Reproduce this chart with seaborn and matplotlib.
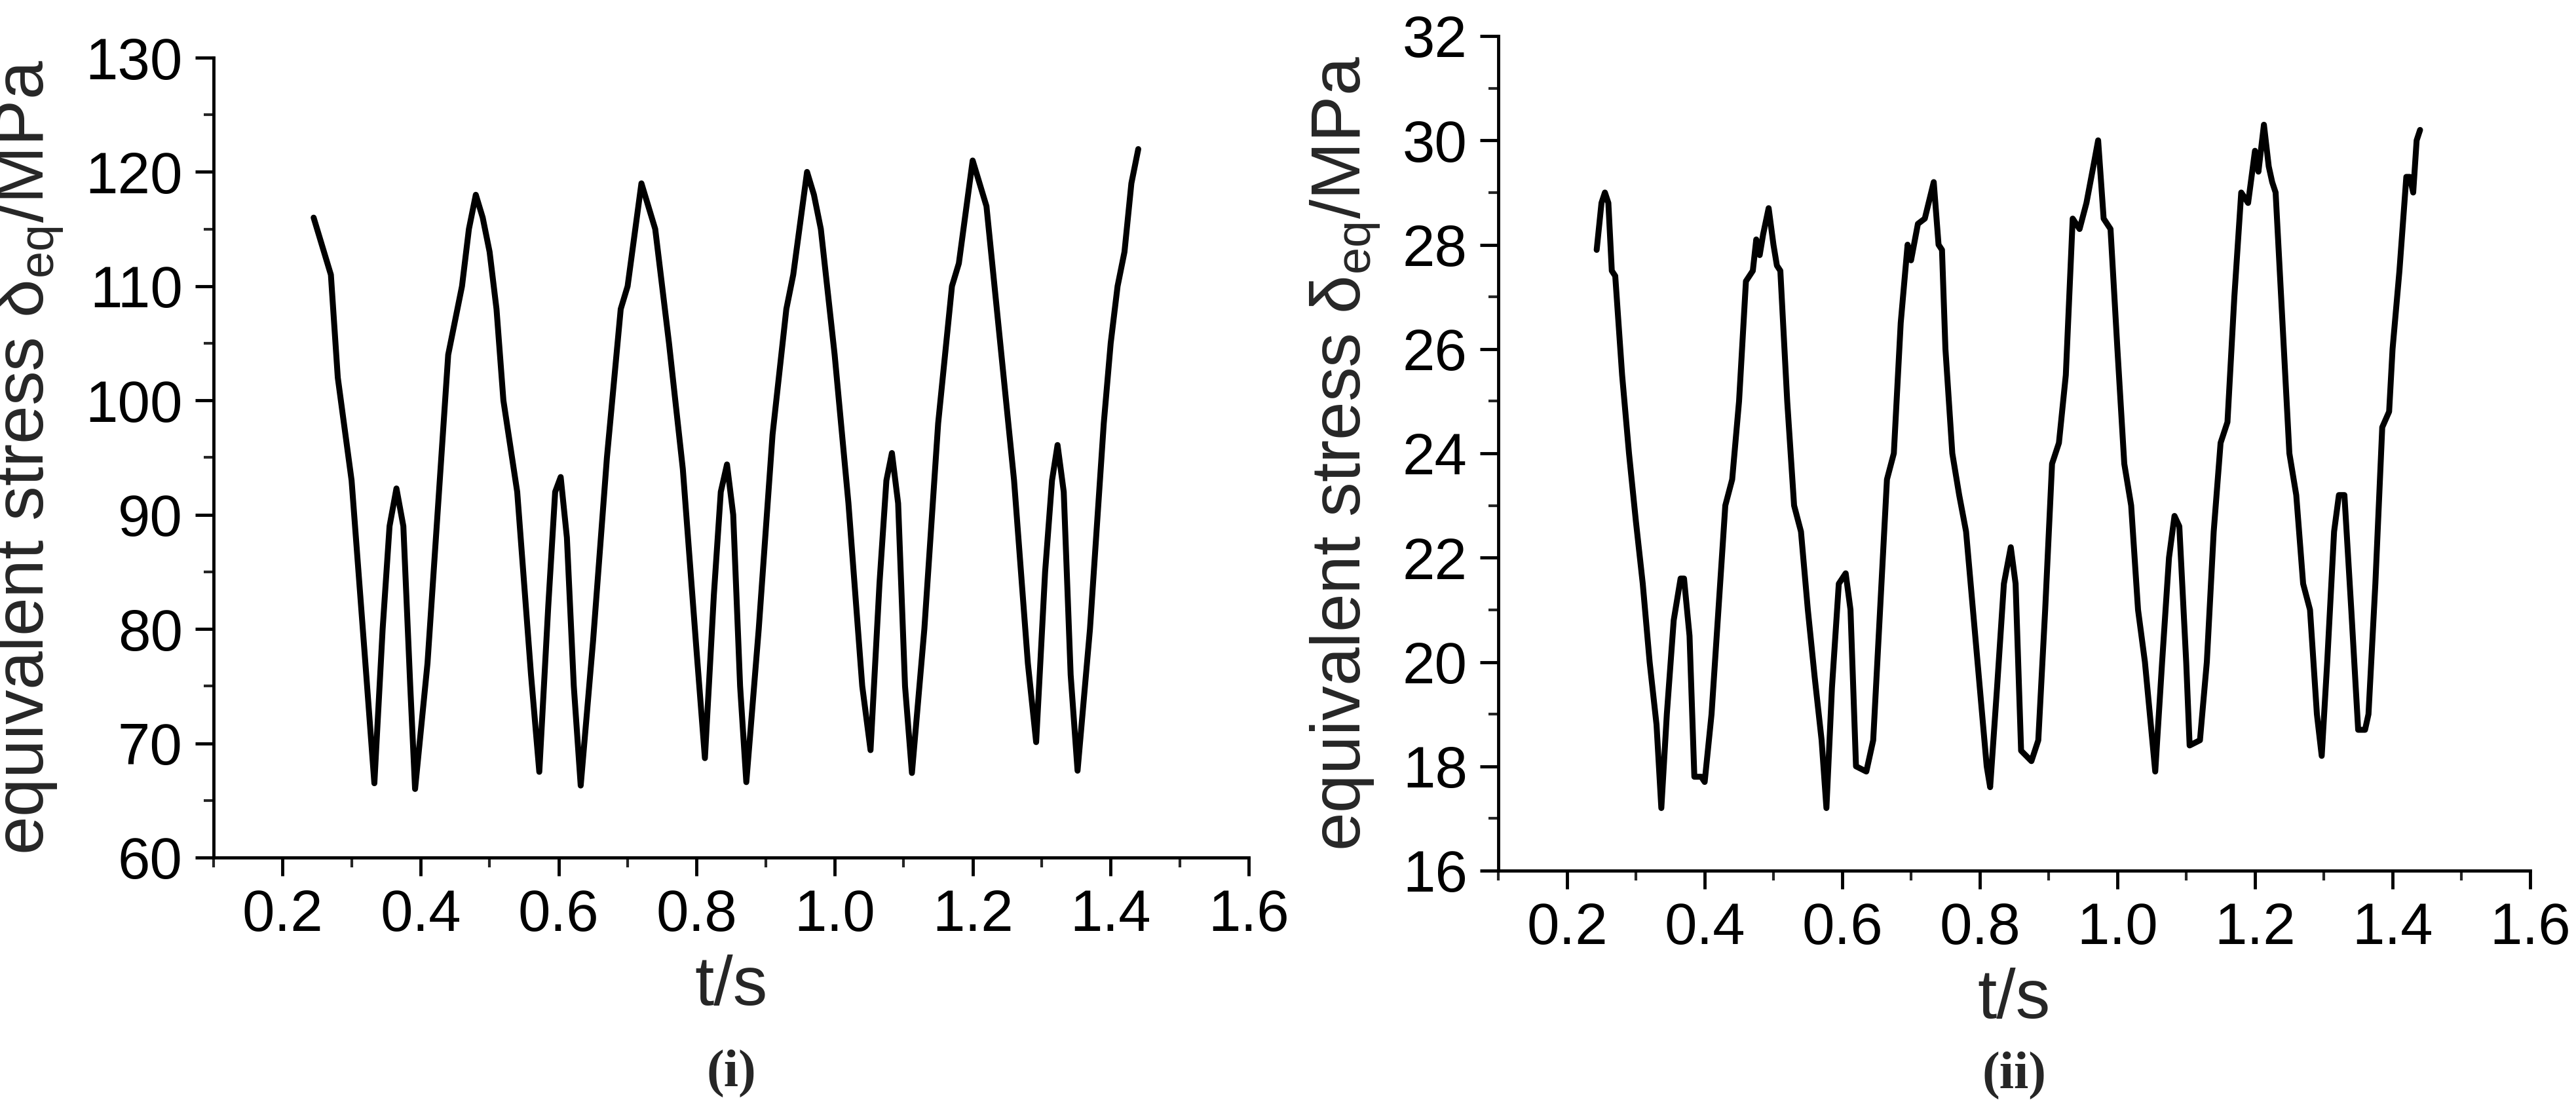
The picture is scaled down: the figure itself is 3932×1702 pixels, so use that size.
import numpy as np
import pandas as pd
import matplotlib
matplotlib.use("Agg")
import matplotlib.pyplot as plt
import seaborn as sns
from matplotlib.ticker import MultipleLocator

t1 = [0.245,0.26,0.27,0.28,0.30,0.32,0.333,0.345,0.355,0.365,0.375,0.385,0.392,0.41,0.43,0.44,0.45,0.46,0.47,0.48,0.49,0.50,0.51,0.52,0.54,0.56,0.572,0.585,0.595,0.603,0.612,0.622,0.632,0.65,0.67,0.69,0.70,0.72,0.73,0.74,0.76,0.78,0.80,0.812,0.825,0.835,0.844,0.853,0.863,0.872,0.89,0.91,0.93,0.94,0.96,0.97,0.98,1.00,1.02,1.04,1.052,1.065,1.075,1.083,1.092,1.102,1.112,1.13,1.15,1.17,1.18,1.20,1.21,1.22,1.24,1.26,1.28,1.292,1.305,1.315,1.323,1.332,1.342,1.352,1.37,1.39,1.40,1.41,1.42,1.43,1.44]
s1 = [116,113,111,102,93,77,66.5,80,89,92.3,89,75,66,77,95,104,107,110,115,118,116,113,108,100,92,76,67.5,82,92,93.3,88,75,66.3,79,95,108,110,119,117,115,105,94,78,68.7,83,92,94.4,90,75,66.6,80,97,108,111,120,118,115,104,91,75,69.4,84,93,95.4,91,75,67.4,80,98,110,112,121,119,117,105,93,77,70.1,85,93,96.1,92,76,67.6,80,98,105,110,113,119,122]

t2 = [0.243,0.25,0.255,0.26,0.265,0.27,0.28,0.29,0.30,0.31,0.32,0.33,0.337,0.345,0.355,0.365,0.37,0.378,0.385,0.395,0.40,0.41,0.42,0.43,0.44,0.45,0.46,0.47,0.475,0.48,0.485,0.493,0.50,0.505,0.51,0.52,0.53,0.54,0.55,0.56,0.57,0.577,0.585,0.595,0.605,0.612,0.62,0.635,0.645,0.655,0.665,0.675,0.685,0.695,0.70,0.71,0.72,0.733,0.74,0.745,0.75,0.76,0.77,0.78,0.79,0.80,0.81,0.815,0.825,0.835,0.845,0.852,0.86,0.875,0.885,0.895,0.905,0.915,0.925,0.935,0.945,0.955,0.965,0.972,0.98,0.99,1.00,1.01,1.02,1.03,1.04,1.055,1.065,1.075,1.083,1.09,1.10,1.105,1.12,1.13,1.14,1.15,1.16,1.17,1.18,1.19,1.20,1.205,1.213,1.22,1.225,1.23,1.24,1.25,1.26,1.27,1.28,1.29,1.297,1.305,1.315,1.322,1.33,1.34,1.35,1.36,1.365,1.375,1.385,1.395,1.40,1.41,1.42,1.425,1.43,1.435,1.44]
s2 = [27.9,28.8,29,28.8,27.5,27.4,25.5,24,22.7,21.5,20,18.8,17.2,19,20.8,21.6,21.6,20.5,17.8,17.8,17.7,19,21,23,23.5,25,27.3,27.5,28.1,27.8,28.2,28.7,28,27.6,27.5,25,23,22.5,21,19.7,18.5,17.2,19.5,21.5,21.7,21,18,17.9,18.5,21,23.5,24,26.5,28,27.7,28.4,28.5,29.2,28,27.9,26,24,23.2,22.5,21,19.5,18,17.6,19.5,21.5,22.2,21.5,18.3,18.1,18.5,21,23.8,24.2,25.5,28.5,28.3,28.8,29.5,30,28.5,28.3,26,23.8,23,21,20,17.9,20,22,22.8,22.6,20,18.4,18.5,20,22.5,24.2,24.6,27,29,28.8,29.8,29.4,30.3,29.5,29.2,29,26.5,24,23.2,21.5,21,19,18.2,20,22.5,23.2,23.2,21,18.7,18.7,19,21.5,24.5,24.8,26,27.5,29.3,29.3,29,30,30.2]

sns.set_theme(style="ticks")
plt.rcParams['font.family'] = ['Liberation Sans', 'DejaVu Sans']

fig = plt.figure(figsize=(39.32, 17.02), dpi=100)
ax1 = fig.add_axes([326/3932, 1-1309/1702, (1906-326)/3932, (1309-88)/1702])
ax2 = fig.add_axes([2287/3932, 1-1329/1702, (3862-2287)/3932, (1329-55)/1702])

specs = [(ax1, t1, s1, (60, 130), 10, 5, '(i)', -0.27),
         (ax2, t2, s2, (16, 32), 2, 1, '(ii)', -0.245)]
for ax, t, s, ylim, ymaj, ymin, cap, cy in specs:
    sns.lineplot(x=t, y=s, ax=ax, color='black', linewidth=6.5, sort=False)
    ax.set_xlim(0.1, 1.6)
    ax.set_ylim(*ylim)
    ax.xaxis.set_minor_locator(MultipleLocator(0.1))
    ax.yaxis.set_major_locator(MultipleLocator(ymaj))
    ax.yaxis.set_minor_locator(MultipleLocator(ymin))
    ax.set_xticks(np.arange(0.2, 1.61, 0.2))
    ax.tick_params(which='major', direction='out', length=20, width=3.5, labelsize=64, colors='black', pad=14)
    ax.tick_params(which='minor', direction='out', length=11, width=3)
    sns.despine(ax=ax)
    for sp in ['left', 'bottom']:
        ax.spines[sp].set_linewidth(3.5)
        ax.spines[sp].set_color('black')
    ax.set_xlabel('t/s', fontsize=76, labelpad=12)
    ax.set_ylabel(r'equivalent stress $\mathregular{\delta_{eq}}$/MPa', fontsize=76, labelpad=22)
    ax.text(0.5, cy, cap, transform=ax.transAxes, ha='center', va='center',
            fontsize=58, fontweight='bold', family=['Liberation Serif', 'DejaVu Serif'])

fig.savefig('out.png', dpi=100, facecolor='white')
